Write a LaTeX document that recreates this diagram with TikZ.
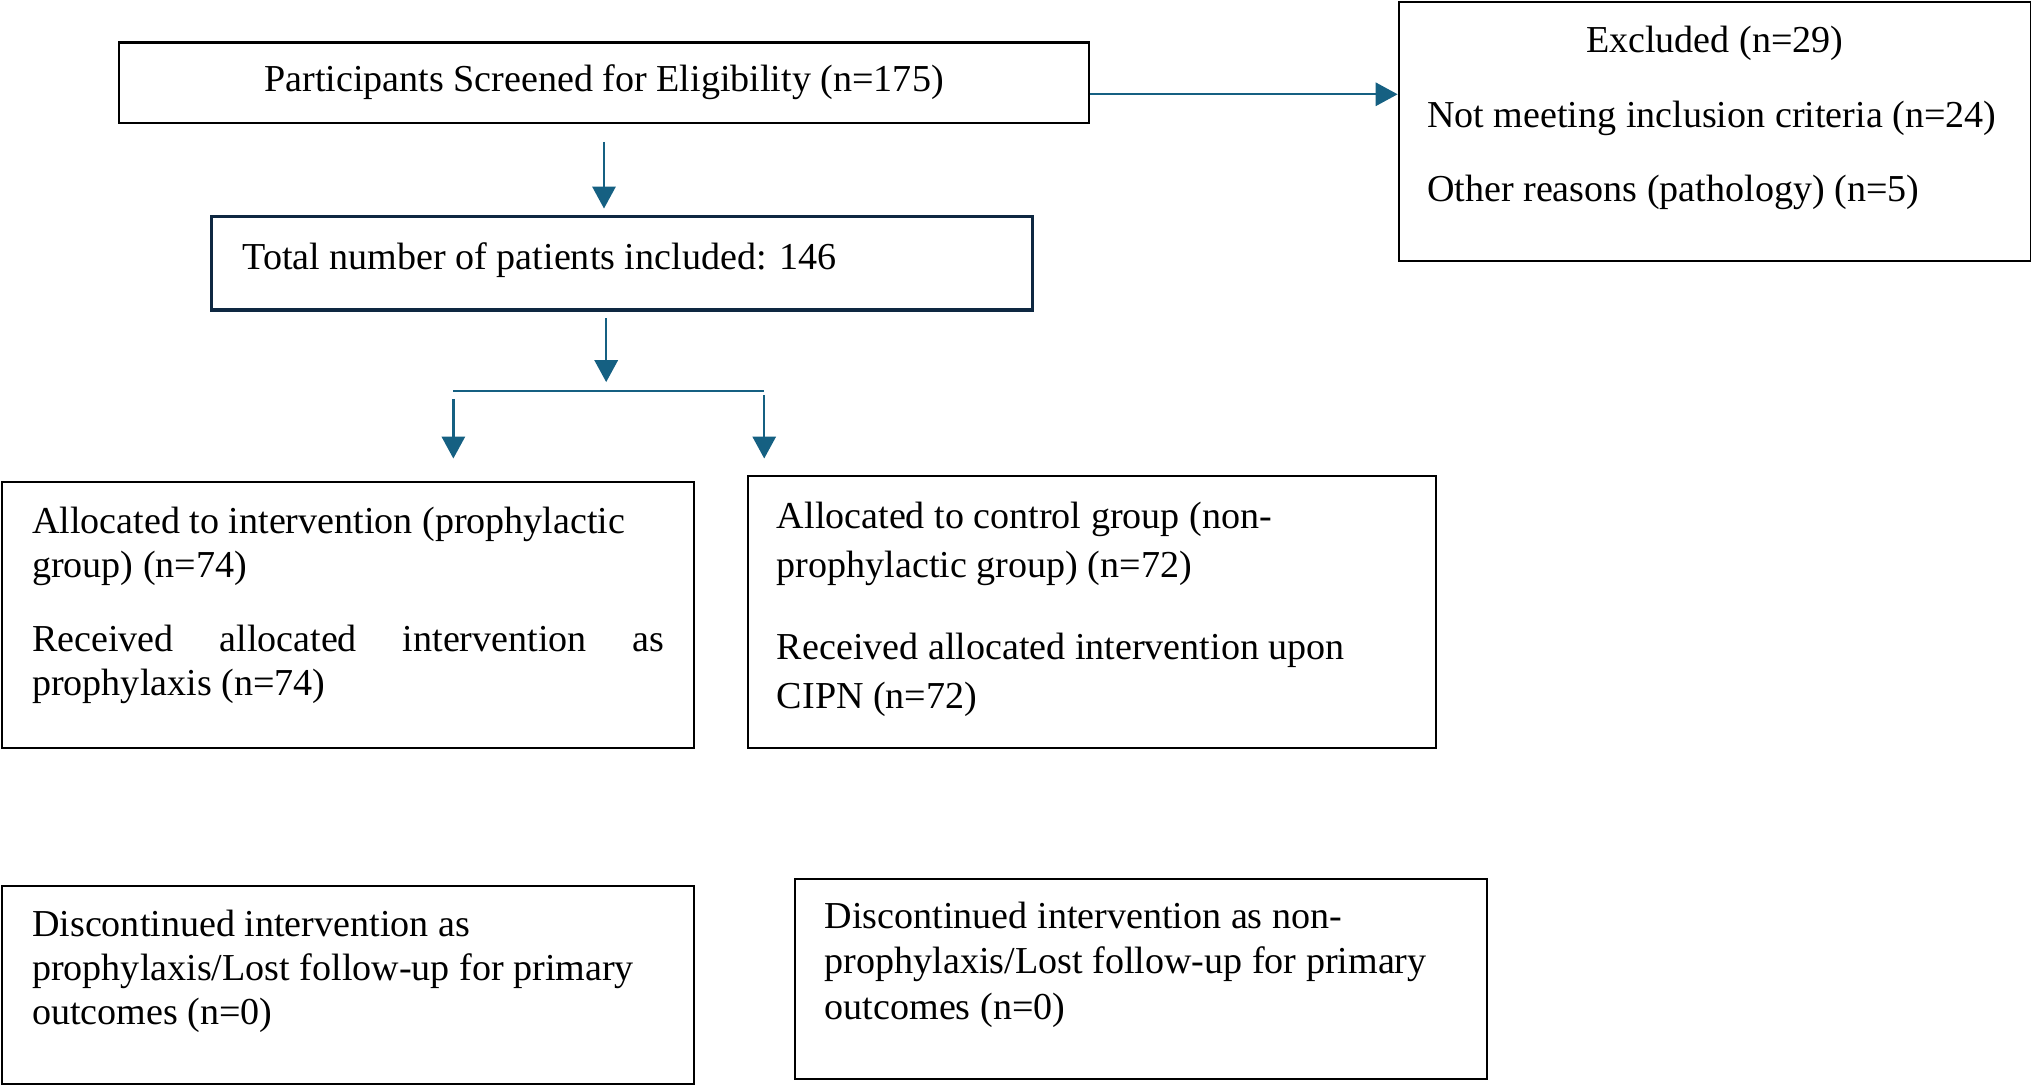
\documentclass[tikz,border=0pt]{standalone}
\usepackage{fontspec}
\setmainfont{Liberation Serif}
\usetikzlibrary{positioning,arrows.meta}
\definecolor{flowblue}{HTML}{156082}
\definecolor{flownavy}{HTML}{0E2841}

\begin{document}
\begin{tikzpicture}[x=1pt, y=-1pt,
  box/.style={draw, line width=0.8pt, anchor=north west, inner ysep=0pt, inner xsep=11.5pt, font=\fontsize{14.7}{17}\selectfont},
  flow/.style={draw=flowblue, line width=0.9pt},
  arr/.style={flow, -{Triangle[length=8.5pt, width=9pt]}}]

\useasboundingbox (0,0) rectangle (784,419);

% ======================================
% SCREENING AND EXCLUSION
% ======================================
\node[box, minimum width=374.5pt, minimum height=31pt] (screen) at (45.5,16) {Participants Screened for Eligibility (n=175)};

\node[box, inner xsep=11pt] (excl) at (539.5,0.5) {\parbox[t][100pt][t]{222pt}{\fontsize{14.7}{28.75}\selectfont{\centering\rule{0pt}{19.5pt}Excluded (n=29)\par}Not meeting inclusion criteria (n=24)\\Other reasons (pathology) (n=5)}};

\coordinate (exclin) at ([yshift=-4.5pt]screen.east);
\draw [arr] (exclin) -- (exclin -| excl.west);

% ======================================
% INCLUDED PATIENTS
% ======================================
\node[box, draw=flownavy, line width=1.3pt, inner xsep=12pt] (incl) at (81,83) {\parbox[t][36pt][t]{293pt}{\rule{0pt}{20.5pt}Total number of patients included: 146}};
\draw [arr, shorten <=7pt, shorten >=2.5pt] (screen.south) -- (screen.south |- incl.north);

% ======================================
% ALLOCATION
% ======================================
\node[box] (proph) at (0.5,185.5) {\parbox[t][103pt][t]{244pt}{\raggedright\rule{0pt}{20pt}Allocated to intervention (prophylactic\\group) (n=74)\par\vspace{11.5pt}\makebox[\linewidth][s]{Received allocated intervention as}\\prophylaxis (n=74)}};

\node[box, inner xsep=11pt] (ctrl) at (288.5,183.5) {\parbox[t][105pt][t]{243.5pt}{\fontsize{14.7}{19}\selectfont\raggedright\rule{0pt}{20pt}Allocated to control group (non-\\prophylactic group) (n=72)\par\vspace{12.5pt}Received allocated intervention upon\\CIPN (n=72)}};

\coordinate (fork) at (234,151);
\coordinate (forkL) at (175,151);
\coordinate (forkR) at (295,151);
\draw [arr, shorten <=2.5pt, shorten >=3.5pt] (fork |- incl.south) -- (fork);
\draw [flow] (forkL) -- (forkR);
\draw [arr, shorten <=3pt, shorten >=8.5pt] (forkL) -- (forkL |- proph.north);
\draw [arr, shorten <=1.5pt, shorten >=6.5pt] (forkR) -- (forkR |- ctrl.north);

% ======================================
% FOLLOW-UP
% ======================================
\node[box] (lostp) at (0.5,341.5) {\parbox[t][76.5pt][t]{244pt}{\raggedright\rule{0pt}{19.5pt}Discontinued intervention as\\prophylaxis/Lost follow-up for primary\\outcomes (n=0)}};

\node[box] (lostc) at (306.5,339) {\parbox[t][77pt][t]{244pt}{\fontsize{14.7}{17.5}\selectfont\raggedright\rule{0pt}{19pt}Discontinued intervention as non-\\prophylaxis/Lost follow-up for primary\\outcomes (n=0)}};

\end{tikzpicture}
\end{document}
